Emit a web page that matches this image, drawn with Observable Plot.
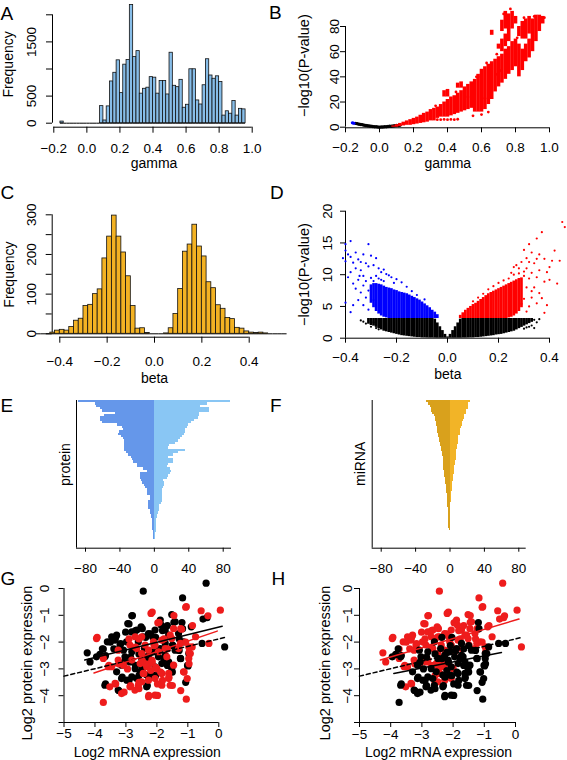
<!DOCTYPE html>
<html>
<head>
<meta charset="utf-8">
<script src="https://cdn.jsdelivr.net/npm/d3@7"></script>
<script src="https://cdn.jsdelivr.net/npm/@observablehq/plot@0.6"></script>
<style>
  body { margin: 0; background: #fff; }
  #fig { position: relative; width: 567px; height: 760px; background: #fff; overflow: hidden; }
  #fig svg { position: absolute; }
  .lt { position: absolute; font: 19px/19px 'Liberation Sans', Arial, Helvetica, sans-serif; color: #000; z-index: 5; }
</style>
</head>
<body>
<div id="fig"></div>
<script>
// ---------------- DATA ----------------
// Panel A: histogram of gamma (bin width 0.02, first bin starts at -0.16)
const gammaBinStart = -0.16, gammaBinWidth = 0.02;
const gammaCounts = [30,0,0,0,0,0,0,0,0,0,0,0,
  315,50,310,770,930,1160,555,1080,1165,2180,1220,1330,545,635,655,850,840,545,780,780,530,
  1300,690,665,800,285,340,995,995,420,345,700,1180,880,820,865,760,140,220,175,410,140,265,255];
const gammaXTicks = [-0.2,0,0.2,0.4,0.6,0.8,1.0];
const freqATicks = [0,500,1000,1500,2000];
const freqALabels = [0,500,1500];

// Panel B: gamma vs -log10(P) ; dense red cloud as column ranges [gamma, low, high]
const gammaRedSegs = [
 [0.08,0,1],[0.10,0,2],[0.12,0.5,3],[0.14,1,4],[0.16,1.5,5],[0.18,1.5,6],[0.20,2,7],[0.22,2.5,8],
 [0.24,3,9.5],[0.26,3.5,11],[0.28,4,12],[0.30,5,14],[0.32,5,15],[0.34,7,16],[0.36,8,18],[0.38,8,20],
 [0.38,24,29],[0.40,8,22],[0.40,24,30],[0.42,9,24],[0.44,10,25],[0.46,11,27],[0.46,31,35],[0.48,12,29],
 [0.48,31,36],[0.50,13,32],[0.52,14,34],[0.54,15,36],[0.56,12,38],[0.58,12,42],[0.60,12,46],[0.62,14,48],
 [0.64,18,50],[0.66,22,52],[0.66,73,77],[0.68,28,54],[0.70,32,56],[0.70,62,66],[0.72,35,58],[0.72,60,70],
 [0.72,76,85],[0.74,38,62],[0.74,64,74],[0.74,78,92],[0.76,42,64],[0.76,68,90],[0.78,45,68],[0.78,78,92],
 [0.80,48,70],[0.80,82,88],[0.82,40,66],[0.82,72,80],[0.84,45,62],[0.84,70,84],[0.86,52,66],[0.86,70,86],
 [0.88,55,70],[0.88,74,88],[0.90,60,86],[0.92,68,89],[0.94,76,89],[0.96,82,88]
];
const gammaRedDots = [[0.34,6],[0.36,6],[0.38,6.2],[0.40,6],[0.42,6.2],[0.44,6],[0.46,6.3],
 [0.69,42],[0.71,45],[0.95,85],[0.97,87],[0.62,23],[0.58,40],[0.52,24],[0.55,9],[0.60,10],[0.64,12],
 [0.33,17],[0.45,28],[0.57,40],[0.63,51],[0.69,58],[0.81,71],[0.85,87],[0.91,88],[0.77,94],[0.73,90]];
const gammaBlackDots = [[-0.14,3.0],[-0.13,2.7],[-0.12,2.4],[-0.11,2.1],[-0.10,1.9],[-0.09,1.6],[-0.08,1.4],
 [-0.07,1.2],[-0.06,1.0],[-0.05,0.8],[-0.04,0.6],[-0.03,0.4],[-0.02,0.3],[-0.01,0.1],[0,0],[0.01,0.1],
 [0.02,0.2],[0.03,0.3],[0.04,0.4],[0.05,0.5],[0.06,0.7],[0.07,0.8],[0.08,1.0],[0.09,1.1],[0.10,1.3],[0.11,1.4],[0.12,1.5]];
const gammaBlueDots = [[-0.16,3.6],[-0.155,3.4],[-0.15,3.2]];
const pvalBTicks = [0,20,40,60,80];

// Panel C: histogram of beta (bin width 0.02 from -0.50)
const betaBinStart = -0.50, betaBinWidth = 0.02;
const betaCounts = [0,0,0,3,8,10,8,17,33,38,70,73,100,112,190,245,298,245,205,145,70,13,14,2,0,
  0,0,1,14,50,113,207,225,275,220,195,130,115,72,63,40,37,15,13,6,3,2,3,1,0,0,0,0];
const betaXTicks = [-0.4,-0.2,0,0.2,0.4];
const freqCTicks = [0,50,100,150,200,250,300];
const freqCLabels = [0,100,200,300];

// Panel D: beta vs -log10(P) ; dense areas as column ranges [beta, low, high], sparse points
const betaBlackSegs = [
 [-0.31,2.2,3.1],[-0.30,2.0,3.1],[-0.29,1.9,3.1],[-0.28,1.7,3.1],[-0.27,1.5,3.1],[-0.26,1.3,3.1],[-0.25,1.1,3.1],
 [-0.24,1.0,3.1],[-0.23,0.9,3.1],[-0.22,0.8,3.1],[-0.21,0.7,3.1],[-0.20,0.6,3.1],[-0.19,0.5,3.1],[-0.18,0.4,3.1],
 [-0.17,0.35,3.1],[-0.16,0.3,3.1],[-0.15,0.25,3.1],[-0.14,0.2,3.1],[-0.13,0.15,3.1],[-0.12,0.1,3.1],[-0.11,0.1,3.1],
 [-0.10,0.05,3.1],[-0.09,0.05,3.1],[-0.08,0.03,3.1],[-0.07,0.02,3.1],[-0.06,0.02,3.1],[-0.05,0.01,3.0],[-0.04,0,2.4],
 [-0.03,0,1.8],[-0.02,0,1.2],[-0.01,0,0.6],[0,0,0.2],[0.01,0,0.6],[0.02,0,1.2],[0.03,0,1.8],[0.04,0,2.4],[0.05,0,3.0],
 [0.06,0.02,3.1],[0.07,0.02,3.1],[0.08,0.03,3.1],[0.09,0.05,3.1],[0.10,0.05,3.1],[0.11,0.1,3.1],[0.12,0.1,3.1],
 [0.13,0.15,3.1],[0.14,0.2,3.1],[0.15,0.25,3.1],[0.16,0.3,3.1],[0.17,0.35,3.1],[0.18,0.4,3.1],[0.19,0.5,3.1],
 [0.20,0.55,3.1],[0.21,0.6,3.1],[0.22,0.7,3.1],[0.23,0.8,3.1],[0.24,0.9,3.1],[0.25,1.0,3.1],[0.26,1.1,3.1],
 [0.27,1.3,3.1],[0.28,1.5,3.1],[0.29,1.7,3.1],[0.30,1.9,3.1],[0.31,2.1,3.1],[0.32,2.3,3.1],[0.33,2.5,3.1]
];
const betaBlueSegs = [
 [-0.04,3.1,3.7],[-0.05,3.1,4.1],[-0.06,3.1,4.4],[-0.07,3.1,4.8],[-0.08,3.1,5.1],[-0.09,3.1,5.4],[-0.10,3.1,5.7],
 [-0.11,3.1,6.0],[-0.12,3.1,6.2],[-0.13,3.1,6.4],[-0.14,3.1,6.6],[-0.15,3.1,6.8],[-0.16,3.1,7.0],[-0.17,3.1,7.1],
 [-0.18,3.1,7.2],[-0.19,3.1,7.3],[-0.20,3.1,7.5],[-0.21,3.1,7.6],[-0.22,3.1,7.8],[-0.23,3.1,7.9],[-0.24,3.2,8.0],
 [-0.25,3.3,8.2],[-0.26,3.5,8.4],[-0.27,3.8,8.5],[-0.28,4.2,8.6],[-0.29,4.8,8.6],[-0.30,5.5,8.4]
];
const betaRedSegs = [
 [0.05,3.1,3.6],[0.06,3.1,4.0],[0.07,3.1,4.4],[0.08,3.1,4.7],[0.09,3.1,5.0],[0.10,3.1,5.3],[0.11,3.1,5.5],
 [0.12,3.1,5.8],[0.13,3.1,6.1],[0.14,3.1,6.4],[0.15,3.1,6.7],[0.16,3.1,7.0],[0.17,3.1,7.2],[0.18,3.1,7.4],
 [0.19,3.1,7.6],[0.20,3.1,7.8],[0.21,3.1,8.0],[0.22,3.1,8.2],[0.23,3.1,8.4],[0.24,3.2,8.6],[0.25,3.3,8.8],
 [0.26,3.5,9.0],[0.27,3.8,9.2],[0.28,4.2,9.4],[0.29,4.8,9.5]
];
const betaBlueDots = [[-0.40,14.8],[-0.38,15.3],[-0.31,14.8],[-0.40,13.8],[-0.39,13.2],[-0.40,12.1],[-0.41,12.6],
 [-0.37,11.9],[-0.35,12.4],[-0.33,13.2],[-0.30,13.0],[-0.28,12.6],[-0.32,11.8],[-0.36,11.0],[-0.38,10.4],[-0.34,10.7],
 [-0.31,11.3],[-0.29,11.5],[-0.27,11.0],[-0.26,10.4],[-0.24,10.1],[-0.22,9.6],[-0.20,9.3],[-0.18,8.8],[-0.23,9.9],
 [-0.25,10.8],[-0.33,9.8],[-0.35,9.2],[-0.37,8.6],[-0.39,9.6],[-0.36,7.8],[-0.34,7.2],[-0.33,8.3],[-0.32,6.4],
 [-0.31,7.5],[-0.35,6.0],[-0.37,5.2],[-0.38,4.1],[-0.40,5.6],[-0.33,5.2],[-0.31,4.5],[-0.30,9.5],[-0.29,9.0],
 [-0.32,9.0],[-0.28,9.8],[-0.26,9.2],[-0.21,8.7],[-0.16,8.1],[-0.14,7.4],[-0.12,6.8],[-0.09,6.1],[-0.36,13.5],
 [-0.345,9.8],[-0.30,7.2],[-0.29,6.0],[-0.30,8.2],[-0.27,9.4],[-0.25,9.0],[-0.34,12.0],[-0.38,12.8]];
const betaRedDots = [[0.45,18.3],[0.46,17.5],[0.37,16.7],[0.35,15.7],[0.32,14.8],[0.44,12.2],[0.41,12.2],[0.42,13.8],
 [0.38,12.5],[0.36,13.2],[0.33,13.5],[0.30,13.9],[0.31,12.6],[0.29,12.0],[0.27,11.5],[0.34,11.8],[0.36,10.7],
 [0.39,10.4],[0.40,9.2],[0.43,8.6],[0.38,8.9],[0.35,9.6],[0.33,10.3],[0.31,11.0],[0.30,10.5],[0.32,9.4],[0.34,8.0],
 [0.36,7.1],[0.37,6.3],[0.39,5.2],[0.38,4.0],[0.35,5.5],[0.33,6.4],[0.32,5.0],[0.31,4.2],[0.30,9.8],[0.28,10.2],
 [0.26,10.0],[0.24,9.4],[0.22,9.1],[0.20,8.7],[0.18,8.2],[0.16,7.7],[0.14,7.0],[0.12,6.4],[0.10,5.8],[0.26,11.2],
 [0.31,8.0],[0.33,7.4],[0.30,6.2],[0.29,5.4],[0.35,12.5],[0.40,11.2],[0.32,12.0],[0.28,11.0],[0.25,10.3]];
const betaBlackDots = [[-0.33,2.6],[-0.32,2.3],[-0.34,2.8],[-0.29,2.5],[-0.28,1.6],[-0.27,1.4],[0.34,2.9],[0.35,2.5],
 [0.33,2.0],[0.32,1.8],[0.34,1.6],[0.36,3.0],[0.31,1.7],[0.30,1.5],[-0.30,1.8]];
const pvalDTicks = [0,5,10,15,20];

// Panels E, F: counts per row (negative / positive)
const proteinNeg = [-88,-68,-67,-63,-60,-45,-58,-63,-62,-60,-43,-37,-36,-41,-42,-38,-36,-35,-35,-35,
 -35,-35,-32,-30,-26,-25,-24,-20,-19,-13,-8,-16,-16,-16,-15,-14,-12,-10,-8,-8,
 -8,-5,-4,-7,-7,-7,-7,-5,-4,-3,-3,-2,-2,-2,-2,-2,-1,-1,-1,-1];
const proteinPos = [88,62,54,64,64,52,53,51,47,43,40,38,36,36,35,33,30,28,24,18,
 17,36,28,22,17,22,22,17,15,19,20,19,17,15,11,12,12,11,10,10,
 9,9,9,9,8,6,6,6,5,4,4,3,3,2,2,2,2,1,1,1];
const mirnaNeg = [-27,-25,-23,-22,-21,-20,-18,-17,-17,-16,-16,-15,-14,-14,-13,-13,-12,-12,-11,-11,
 -10,-10,-9,-9,-8,-8,-7,-7,-7,-7,-6,-6,-6,-5,-5,-5,-4,-4,-4,-4,
 -3,-3,-3,-3,-3,-3,-2,-2,-2,-2,-2,-2,-2,-2,-2,-1];
const mirnaPos = [24,22,21,21,19,19,17,17,16,15,14,13,12,12,12,10,10,10,10,9,
 9,8,8,7,7,7,6,6,5,5,5,5,4,4,4,3,3,3,3,2,
 2,2,2,2,1,1,1,1,1,1,1,1,1,1,1,1];
const countTicks = [-80,-40,0,40,80];

// Panels G, H: [log2 mRNA, log2 protein, colour in G, colour in H]  (k = black, r = red)
const exprPoints = [
 [-0.41,0.2,'k','r'],[-2.44,-0.1,'k','r'],[-1.17,-0.35,'k','r'],[-2.81,-1.02,'k','r'],[-2.94,-1.31,'k','r'],
 [-1.52,-0.97,'k','r'],[-1.89,-1.18,'k','r'],[-1.19,-1.27,'k','k'],[-0.89,-1.43,'k','r'],[-0.51,-1.14,'k','r'],
 [-0.38,-1.09,'k','r'],[-0.54,-2.05,'k','k'],[0.19,-2.18,'k','r'],[-4.25,-2.4,'k','r'],[-4.16,-2.74,'k','r'],
 [-3.84,-2.46,'k','k'],[-3.68,-2.55,'k','k'],[-3.6,-1.99,'k','r'],[-3.46,-1.8,'k','r'],[-3.35,-1.93,'k','r'],
 [-3.3,-1.74,'k','r'],[-3.19,-2.11,'k','r'],[-3.08,-2.3,'k','k'],[-2.98,-1.99,'k','r'],[-2.81,-1.62,'k','r'],
 [-2.65,-1.55,'k','r'],[-2.51,-1.43,'k','r'],[-2.44,-1.8,'k','r'],[-2.27,-1.68,'k','r'],[-2.14,-1.8,'k','r'],
 [-2.06,-1.55,'k','r'],[-1.86,-1.37,'k','r'],[-1.73,-1.55,'k','r'],[-1.62,-1.74,'k','r'],[-1.41,-1.24,'k','r'],
 [-1.3,-1.68,'k','r'],[-2.6,-1.99,'k','k'],[-2.4,-2.24,'k','k'],[-2.27,-2.49,'k','k'],[-2.11,-2.36,'k','k'],
 [-1.89,-2.24,'k','k'],[-1.73,-2.49,'k','k'],[-1.62,-2.74,'k','k'],[-1.52,-2.99,'k','k'],[-1.84,-2.8,'k','k'],
 [-2.06,-2.92,'k','k'],[-2.33,-3.23,'k','k'],[-2.11,-3.23,'k','k'],[-2.54,-3.11,'k','k'],[-2.7,-2.99,'k','k'],
 [-2.81,-3.3,'k','k'],[-2.65,-3.36,'k','k'],[-3.14,-3.36,'k','k'],[-2.97,-3.42,'k','k'],[-3.25,-3.79,'k','k'],
 [-3.68,-3.61,'k','k'],[-2.33,-3.67,'k','k'],[-3.3,-3.11,'k','k'],[-3.14,-2.86,'k','k'],[-1.24,-2.61,'k','k'],
 [-0.99,-2.89,'k','k'],[-0.97,-2.43,'k','k'],[-3.03,-2.55,'k','k'],[-2.87,-2.74,'k','r'],[-2.49,-2.61,'k','k'],
 [-1.49,-2.11,'k','r'],[-1.41,-2.3,'k','k'],[-1.14,-1.99,'k','r'],[-1.73,-2.05,'k','k'],[-3.73,-2.26,'k','r'],
 [-3.95,-2.55,'k','k'],[-2.81,-2.36,'k','k'],[-1.95,-2.55,'k','k'],
 [-2.79,-1.01,'k','r'],[-2.9,-1.32,'k','r'],[-3.33,-1.82,'k','r'],[-3.5,-2.0,'k','r'],[-3.76,-2.25,'k','k'],
 [-3.66,-2.5,'k','k'],[-3.39,-2.25,'k','r'],[-3.17,-2.06,'k','r'],[-3.01,-1.63,'k','r'],[-2.69,-1.57,'k','r'],
 [-2.47,-1.5,'k','r'],[-2.36,-1.82,'k','k'],[-2.2,-1.69,'k','r'],[-2.04,-1.82,'k','k'],[-1.82,-1.57,'k','r'],
 [-1.66,-1.38,'k','r'],[-1.45,-1.26,'k','r'],[-1.17,-1.5,'k','k'],[-1.28,-1.88,'k','r'],[-1.5,-2.13,'k','k'],
 [-1.28,-2.31,'k','k'],[-1.93,-2.31,'k','k'],[-2.2,-2.38,'k','k'],[-2.36,-2.62,'k','k'],[-2.58,-2.44,'k','k'],
 [-2.85,-2.56,'k','k'],[-3.06,-2.75,'k','k'],[-2.69,-2.87,'k','r'],[-2.47,-3.0,'k','r'],[-2.58,-3.25,'k','r'],
 [-2.26,-3.31,'k','k'],[-2.04,-3.25,'k','k'],[-1.66,-2.87,'k','k'],[-1.5,-3.12,'k','k'],[-1.23,-2.62,'k','k'],
 [-1.01,-2.87,'k','k'],[-1.07,-3.5,'k','k'],[-3.12,-3.31,'k','k'],[-2.9,-3.43,'k','k'],[-3.66,-3.56,'k','k'],
 [-3.23,-3.81,'k','k'],[-2.31,-3.62,'k','k'],[-1.77,-2.62,'k','k'],
 [0.05,-0.81,'r','r'],[-0.57,-0.83,'r','r'],[-0.35,-1.02,'r','r'],[-1.05,-0.68,'r','r'],[-2.19,-0.93,'r','r'],
 [-1.97,-1.28,'r','r'],[-1.2,-1.52,'r','r'],[-3.95,-1.87,'r','r'],[-3.73,-2.61,'r','r'],[-3.57,-2.92,'r','r'],
 [-3.52,-3.67,'r','r'],[-3.35,-3.54,'r','r'],[-3.73,-4.25,'r','k'],[-3.14,-3.92,'r','k'],[-2.87,-3.67,'r','k'],
 [-2.71,-3.79,'r','k'],[-2.27,-4.04,'r','k'],[-2.06,-3.98,'r','k'],[-1.05,-4.13,'r','k'],[-1.02,-3.36,'r','k'],
 [-1.14,-3.11,'r','k'],[-0.97,-2.61,'r','k'],[-0.86,-2.18,'r','k'],[-0.32,-2.05,'r','k'],[-0.75,-1.8,'r','r'],
 [-1.52,-1.87,'r','r'],[-1.84,-1.93,'r','r'],[-2.11,-1.99,'r','r'],[-2.38,-2.11,'r','r'],[-2.65,-2.24,'r','r'],
 [-2.81,-2.67,'r','r'],[-3.08,-2.86,'r','r'],[-3.25,-2.67,'r','r'],[-3.46,-2.92,'r','r'],[-2.54,-2.8,'r','r'],
 [-2.33,-2.92,'r','r'],[-2.16,-2.67,'r','k'],[-2.0,-2.99,'r','r'],[-1.84,-3.17,'r','k'],[-1.62,-3.36,'r','k'],
 [-1.57,-3.61,'r','k'],[-1.84,-3.61,'r','k'],[-2.49,-3.48,'r','r'],[-2.6,-3.61,'r','k'],[-2.27,-3.42,'r','r'],
 [-1.62,-3.17,'r','k'],[-1.46,-2.86,'r','k'],[-1.95,-2.36,'r','r'],[-1.73,-2.24,'r','r'],[-2.27,-2.3,'r','r'],
 [-2.49,-2.43,'r','r'],[-2.7,-1.8,'r','r'],[-2.49,-1.8,'r','r'],[-2.87,-2.11,'r','r'],[-3.25,-2.3,'r','r'],
 [-0.97,-2.18,'r','r'],[-0.92,-2.43,'r','k'],[-1.46,-1.5,'r','r'],[-1.57,-1.74,'r','r'],[-2.06,-2.11,'r','r'],
 [-1.68,-2.55,'r','k'],[-2.22,-2.8,'r','r'],[-2.06,-3.36,'r','r'],[-2.44,-3.17,'r','r'],[-1.3,-2.24,'r','r'],
 [-1.24,-2.05,'r','r'],
 [-2.15,-0.88,'r','r'],[-1.45,-1.01,'r','r'],[-1.93,-1.26,'r','r'],[-1.23,-1.5,'r','r'],[-1.07,-0.7,'r','r'],
 [-0.85,-1.38,'r','r'],[-3.93,-1.82,'r','r'],[-2.9,-1.88,'r','r'],[-2.58,-1.88,'r','r'],[-2.69,-2.19,'r','r'],
 [-2.09,-2.13,'r','k'],[-1.77,-1.88,'r','r'],[-1.66,-2.25,'r','k'],[-0.96,-2.38,'r','r'],[-1.07,-2.0,'r','r'],
 [-3.55,-2.87,'r','r'],[-3.23,-2.81,'r','r'],[-2.95,-3.0,'r','k'],[-2.36,-2.81,'r','r'],[-2.47,-2.69,'r','r'],
 [-2.15,-2.75,'r','k'],[-2.04,-2.94,'r','r'],[-1.88,-3.12,'r','k'],[-2.2,-3.06,'r','k'],[-2.42,-3.18,'r','r'],
 [-1.82,-3.43,'r','k'],[-1.61,-3.31,'r','k'],[-1.5,-3.62,'r','k'],[-1.98,-3.56,'r','k'],[-2.58,-3.5,'r','r'],
 [-2.85,-3.62,'r','k'],[-3.33,-3.56,'r','r'],[-3.06,-3.87,'r','k'],[-2.58,-3.74,'r','k'],[-2.26,-3.99,'r','k'],
 [-1.98,-3.99,'r','k'],[-1.12,-3.12,'r','k'],[-0.96,-2.81,'r','k'],[-1.23,-3.81,'r','k']
];
// regression lines (end points)
const fitGBlack = [[-4.33,-2.67],[0.11,-1.41]];
const fitGRed = [[-4.03,-3.15],[-0.05,-1.59]];
const fitHRed = [[-4.33,-2.67],[0.11,-1.14]];
const fitHBlack = [[-3.9,-3.17],[-0.45,-2.39]];
const fitAll = [[-5,-3.27],[0.22,-1.82]];
const exprTicks = [-5,-4,-3,-2,-1,0];
const exprYLabels = [-4,-3,-2,-1,0];

// ---------------- DRAWING ----------------
const FONT = "'Liberation Sans', Arial, Helvetica, sans-serif";
const TICK_FS = 13.5, TITLE_FS = 14;
const RED = "#ff0000", BLUE = "#0000ff", PTRED = "#ee1c1c";
const f1 = d3.format(".1f"), fi = d3.format("d");
const fig = document.getElementById("fig");

function place(svg, left, top) {
  svg.style.left = left + "px"; svg.style.top = top + "px";
  fig.appendChild(svg);
}
function mk(o, marks) {
  return Plot.plot({
    width: o.W, height: o.H,
    marginLeft: o.mL, marginRight: o.mR, marginTop: o.mT, marginBottom: o.mB,
    x: {domain: o.xd, range: o.xr, label: null},
    y: o.noYAxis ? {domain: o.yd, range: o.yr, label: null, axis: null} : {domain: o.yd, range: o.yr, label: null},
    style: {fontFamily: FONT, fontSize: TICK_FS + "px", background: "transparent", overflow: "visible", color: "black"},
    marks
  });
}
function rAxes(o) {
  const m = [];
  m.push(o.xLine
    ? Plot.ruleY([o.xLineAt], {x1: o.xLine[0], x2: o.xLine[1], dy: o.xLineDy || 0, stroke: "black", strokeWidth: 1})
    : Plot.ruleY([o.xLineAt], {dy: o.xLineDy || 0, stroke: "black", strokeWidth: 1}));
  m.push(Plot.axisX({ticks: o.xTicks, tickSize: o.tickLen, tickFormat: () => "", label: null}));
  m.push(Plot.text(o.xTicks, {x: d => d, frameAnchor: "bottom", dy: o.xLabelDy, text: o.xFmt,
    lineAnchor: "middle", textAnchor: "middle", fontSize: TICK_FS}));
  m.push(o.yLine
    ? Plot.ruleX([o.yLineAt], {y1: o.yLine[0], y2: o.yLine[1], dx: o.yLineDx || 0, stroke: "black", strokeWidth: 1})
    : Plot.ruleX([o.yLineAt], {dx: o.yLineDx || 0, stroke: "black", strokeWidth: 1}));
  if (o.yTicks) {
    m.push(Plot.axisY({ticks: o.yTicks, tickSize: o.tickLen, tickFormat: () => "", label: null}));
    m.push(Plot.text(o.yLabels, {y: d => d, frameAnchor: "left", dx: o.yLabelDx, rotate: -90, text: o.yFmt,
      lineAnchor: "middle", textAnchor: "middle", fontSize: TICK_FS}));
  }
  if (o.xTitle) m.push(Plot.text([o.xTitle], {frameAnchor: "bottom", dy: o.xTitleDy, text: d => d,
    lineAnchor: "middle", textAnchor: "middle", fontSize: TITLE_FS}));
  if (o.yTitle) m.push(Plot.text([o.yTitle], {frameAnchor: "left", dx: o.yTitleDx, dy: o.yTitleDy, rotate: -90,
    text: d => d, lineAnchor: "middle", textAnchor: "middle", fontSize: o.yTitleFs || TITLE_FS}));
  return m;
}
function bins(start, width, counts) {
  return counts.map((c, i) => ({x1: start + i * width, x2: start + (i + 1) * width, c}));
}

// ---- A ----
{
  const o = {W: 283, H: 190, mL: 52, mR: 28, mT: 3, mB: 63.3,
    xd: [-0.2, 1.0], xr: [53.3, 251.7], yd: [0, 2000], yr: [122.7, 14.3],
    xLineAt: 0, xLine: [-0.2, 1.0], xLineDy: 4, yLineAt: -0.2, yLine: [0, 2000], yLineDx: -1.3, tickLen: 6,
    xTicks: gammaXTicks, xFmt: f1, xLabelDy: 21,
    yTicks: freqATicks, yLabels: freqALabels, yFmt: fi, yLabelDx: -21.3,
    xTitle: "gamma", xTitleDy: 36.5, yTitle: "Frequency", yTitleDx: -43.8, yTitleDy: -1};
  const b = bins(gammaBinStart, gammaBinWidth, gammaCounts);
  place(mk(o, [
    ...rAxes(o),
    Plot.ruleY(b, {y: 0, x1: "x1", x2: "x2", stroke: "black", strokeWidth: 1}),
    Plot.rect(b.filter(d => d.c > 0), {x1: "x1", x2: "x2", y1: 0, y2: "c", fill: "#87bde8", stroke: "#111", strokeWidth: 0.8, inset: 0})
  ]), 0, 0);
}
// ---- B ----
{
  const o = {W: 284, H: 190, mL: 62, mR: 17.4, mT: 3, mB: 62.7,
    xd: [-0.2, 1.0], xr: [62, 266], yd: [0, 80], yr: [126.7, 26],
    xLineAt: 0, xLine: [-0.2, 1.0], xLineDy: 0.6, yLineAt: -0.2, yLine: [0, 80], tickLen: 5,
    xTicks: gammaXTicks, xFmt: f1, xLabelDy: 19.4,
    yTicks: pvalBTicks, yLabels: pvalBTicks, yFmt: fi, yLabelDx: -10.7,
    xTitle: "gamma", xTitleDy: 35.5, yTitle: "\u2212log10(P-value)", yTitleDx: -41.6, yTitleDy: 0, yTitleFs: 14.5};
  place(mk(o, [
    ...rAxes(o),
    Plot.dot(gammaBlackDots, {x: d => d[0], y: d => d[1], r: 1.7, fill: "black", stroke: "none"}),
    Plot.dot(gammaBlueDots, {x: d => d[0], y: d => d[1], r: 1.5, fill: BLUE, stroke: "none"}),
    Plot.ruleX(gammaRedSegs, {x: d => d[0], y1: d => d[1], y2: d => d[2], stroke: RED, strokeWidth: 3.6}),
    Plot.dot(gammaRedDots, {x: d => d[0], y: d => d[1], r: 1.4, fill: RED, stroke: "none"})
  ]), 283, 0);
}
// ---- C ----
{
  const o = {W: 283, H: 190, mL: 51.7, mR: 26.7, mT: 5, mB: 43.3,
    xd: [-0.4, 0.4], xr: [59.3, 248.7], yd: [0, 300], yr: [143.3, 24.3],
    xLineAt: 0, xLine: [-0.4, 0.4], xLineDy: 3.4, yLineAt: -0.4, yLine: [0, 300], yLineDx: -7.6, tickLen: 6,
    xTicks: betaXTicks, xFmt: f1, xLabelDy: 24.8,
    yTicks: freqCTicks, yLabels: freqCLabels, yFmt: fi, yLabelDx: -21,
    xTitle: "beta", xTitleDy: 41.5, yTitle: "Frequency", yTitleDx: -42.9, yTitleDy: 8.2};
  const b = bins(betaBinStart, betaBinWidth, betaCounts);
  place(mk(o, [
    ...rAxes(o),
    Plot.ruleY(b, {y: 0, x1: "x1", x2: "x2", stroke: "black", strokeWidth: 1}),
    Plot.rect(b.filter(d => d.c > 0), {x1: "x1", x2: "x2", y1: 0, y2: "c", fill: "#f3b223", stroke: "#111", strokeWidth: 0.8, inset: 0})
  ]), 0, 190);
}
// ---- D ----
{
  const o = {W: 284, H: 190, mL: 62, mR: 17.4, mT: 8, mB: 42.3,
    xd: [-0.4, 0.4], xr: [62, 266], yd: [0, 20], yr: [147.7, 20.7],
    xLineAt: 0, xLine: [-0.4, 0.4], xLineDy: 0, yLineAt: -0.4, yLine: [0, 20], tickLen: 5,
    xTicks: betaXTicks, xFmt: f1, xLabelDy: 19,
    yTicks: pvalDTicks, yLabels: pvalDTicks, yFmt: fi, yLabelDx: -17.7,
    xTitle: "beta", xTitleDy: 36.8, yTitle: "\u2212log10(P-value)", yTitleDx: -41.6, yTitleDy: 6.2, yTitleFs: 14.5};
  const seg = (data, color) => Plot.ruleX(data, {x: d => d[0], y1: d => d[1], y2: d => d[2], stroke: color, strokeWidth: 2.7});
  const dots = (data, color) => Plot.dot(data, {x: d => d[0], y: d => d[1], r: 1.1, fill: color, stroke: "none"});
  place(mk(o, [
    ...rAxes(o),
    seg(betaBlackSegs, "black"), dots(betaBlackDots, "black"),
    seg(betaBlueSegs, BLUE), dots(betaBlueDots, BLUE),
    seg(betaRedSegs, RED), dots(betaRedDots, RED)
  ]), 283, 190);
}
// ---- E ----
{
  const o = {W: 283, H: 200, mL: 76, mR: 52, mT: 20, mB: 32.3,
    xd: [-80, 80], xr: [85, 222.7], yd: [0, 60], yr: [20, 159.3], noYAxis: true,
    xLineAt: 60, xLineDy: 8.4, yLineAt: -80, yLineDx: -9, tickLen: 4,
    xTicks: countTicks, xFmt: fi, xLabelDy: 20.6,
    yTitle: "protein", yTitleDx: -11, yTitleDy: -9.8};
  const neg = proteinNeg.map((v, i) => ({i, v})), pos = proteinPos.map((v, i) => ({i, v}));
  place(mk(o, [
    Plot.rect(neg, {x1: 0, x2: "v", y1: "i", y2: d => d.i + 1, fill: "#6597ea", shapeRendering: "crispEdges"}),
    Plot.rect(pos, {x1: 0, x2: "v", y1: "i", y2: d => d.i + 1, fill: "#89c6f4", shapeRendering: "crispEdges"}),
    ...rAxes(o)
  ]), 0, 380);
}
// ---- F ----
{
  const o = {W: 284, H: 200, mL: 88.7, mR: 41.3, mT: 20, mB: 32.3,
    xd: [-80, 80], xr: [97.7, 235.3], yd: [0, 60], yr: [20, 159.3], noYAxis: true,
    xLineAt: 60, xLineDy: 8.4, yLineAt: -80, yLineDx: -9, tickLen: 4,
    xTicks: countTicks, xFmt: fi, xLabelDy: 20.6,
    yTitle: "miRNA", yTitleDx: -11.5, yTitleDy: -10.5};
  const neg = mirnaNeg.map((v, i) => ({i, v})), pos = mirnaPos.map((v, i) => ({i, v}));
  place(mk(o, [
    Plot.rect(neg, {x1: 0, x2: "v", y1: "i", y2: d => d.i + 1, fill: "#d9a11c", shapeRendering: "crispEdges"}),
    Plot.rect(pos, {x1: 0, x2: "v", y1: "i", y2: d => d.i + 1, fill: "#f2b427", shapeRendering: "crispEdges"}),
    ...rAxes(o)
  ]), 283, 380);
}
// ---- G & H ----
function exprPanel(o, colIdx, order, fits) {
  const layers = order.map(g => Plot.dot(exprPoints.filter(d => d[colIdx] === g),
    {x: d => d[0], y: d => d[1], r: 3.6, fill: g === "k" ? "black" : PTRED, stroke: "none"}));
  return mk(o, [
    ...rAxes(o),
    ...layers,
    ...fits.map(([data, color, dash]) => Plot.line(data, {x: d => d[0], y: d => d[1], stroke: color, strokeWidth: 1.5,
      strokeDasharray: dash ? "4,3" : null}))
  ]);
}
{
  const o = {W: 283, H: 190, mL: 63.5, mR: 53.1, mT: 5, mB: 38,
    xd: [-5, 0], xr: [63.5, 218.3], yd: [-5, 0], yr: [152, 18],
    xLineAt: -5, xLine: [-5, 0], yLineAt: -5, yLine: [-5, 0], tickLen: 5,
    xTicks: exprTicks, xFmt: fi, xLabelDy: 11.5,
    yTicks: exprTicks, yLabels: exprYLabels, yFmt: fi, yLabelDx: -19.8,
    xTitle: "Log2 mRNA expression", xTitleDy: 29.7,
    yTitle: "Log2 protein expression", yTitleDx: -36.3, yTitleDy: 14, yTitleFs: 14.5};
  place(exprPanel(o, 2, ["k", "r"], [[fitAll, "black", true], [fitGBlack, "black", false], [fitGRed, PTRED, false]]), 0, 570);
}
{
  const o = {W: 284, H: 190, mL: 76, mR: 50, mT: 5, mB: 38,
    xd: [-5, 0], xr: [76, 232], yd: [-5, 0], yr: [152, 18],
    xLineAt: -5, xLine: [-5, 0], yLineAt: -5, yLine: [-5, 0], tickLen: 5,
    xTicks: exprTicks, xFmt: fi, xLabelDy: 12,
    yTicks: exprTicks, yLabels: exprYLabels, yFmt: fi, yLabelDx: -11.5,
    xTitle: "Log2 mRNA expression", xTitleDy: 29.7,
    yTitle: "Log2 protein expression", yTitleDx: -34.5, yTitleDy: 14, yTitleFs: 14.5};
  place(exprPanel(o, 3, ["r", "k"], [[fitAll, "black", true], [fitHBlack, "black", false], [fitHRed, PTRED, false]]), 283, 570);
}

// ---- panel letters ----
const letters = [["A", 0.5, 20], ["B", 269, 19.5], ["C", 0.5, 199], ["D", 270, 199],
                 ["E", 0.5, 412.5], ["F", 270, 412.5], ["G", 0.5, 585.5], ["H", 271.5, 585.5]];
for (const [t, x, base] of letters) {
  const d = document.createElement("div");
  d.className = "lt"; d.textContent = t;
  d.style.left = x + "px"; d.style.top = (base - 16.1) + "px";
  fig.appendChild(d);
}
</script>
</body>
</html>
